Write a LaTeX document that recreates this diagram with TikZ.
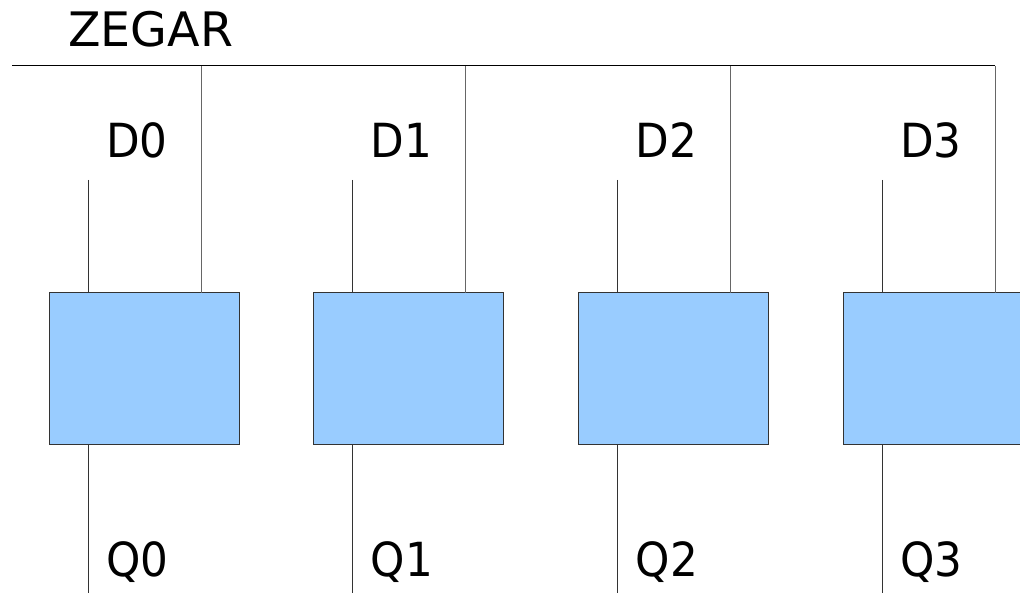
\documentclass[tikz,border=0pt]{standalone}
\usepackage{fontspec}
\setmainfont[FakeStretch=0.93]{DejaVu Sans}
\newfontfamily\titlefont{DejaVu Sans}
\definecolor{fffill}{HTML}{99CCFF}
\definecolor{ffline}{HTML}{333333}
\definecolor{clkline}{HTML}{666666}
\begin{document}
\begin{tikzpicture}[x=1pt,y=-1pt,
  ffbox/.style={draw=ffline,fill=fffill,line width=1pt,minimum width=190pt,
    minimum height=151pt,anchor=north west,outer sep=0pt,inner sep=0pt},
  wire/.style={draw=ffline,line width=1pt},
  clk/.style={draw=clkline,line width=1pt},
  bus/.style={draw=black,line width=1pt},
  lbl/.style={font=\fontsize{47}{56}\selectfont,anchor=base west,inner sep=0pt},
  title/.style={font=\titlefont\fontsize{47.5}{57}\selectfont,anchor=base west,inner sep=0pt}]
\useasboundingbox (0,0) rectangle (1020,593);
\clip (0,0) rectangle (1020,593);
% clock bus
\coordinate (busL) at (12,66);
\node[title] (zegar) at (68,46.5) {ZEGAR};
\foreach \i in {0,...,3}{
  \pgfmathsetmacro\xo{49+264.7*\i}
  % flip-flop
  \node[ffbox] (ff\i) at (\xo,293) {};
  % data input
  \coordinate (d\i) at (\xo+39,180);
  \draw[wire] (d\i) -- (d\i |- ff\i.north);
  \node[lbl] (dl\i) at (\xo+57,158) {D\i};
  % clock input
  \coordinate (bus\i) at (\xo+152,66);
  \draw[clk] (bus\i) -- (bus\i |- ff\i.north);
  % output
  \coordinate (q\i) at (\xo+39,593);
  \draw[wire] (q\i |- ff\i.south) -- (q\i);
  \node[lbl] (ql\i) at (\xo+57,576) {Q\i};
}
\draw[bus] (busL) -- (bus3);
\end{tikzpicture}
\end{document}
